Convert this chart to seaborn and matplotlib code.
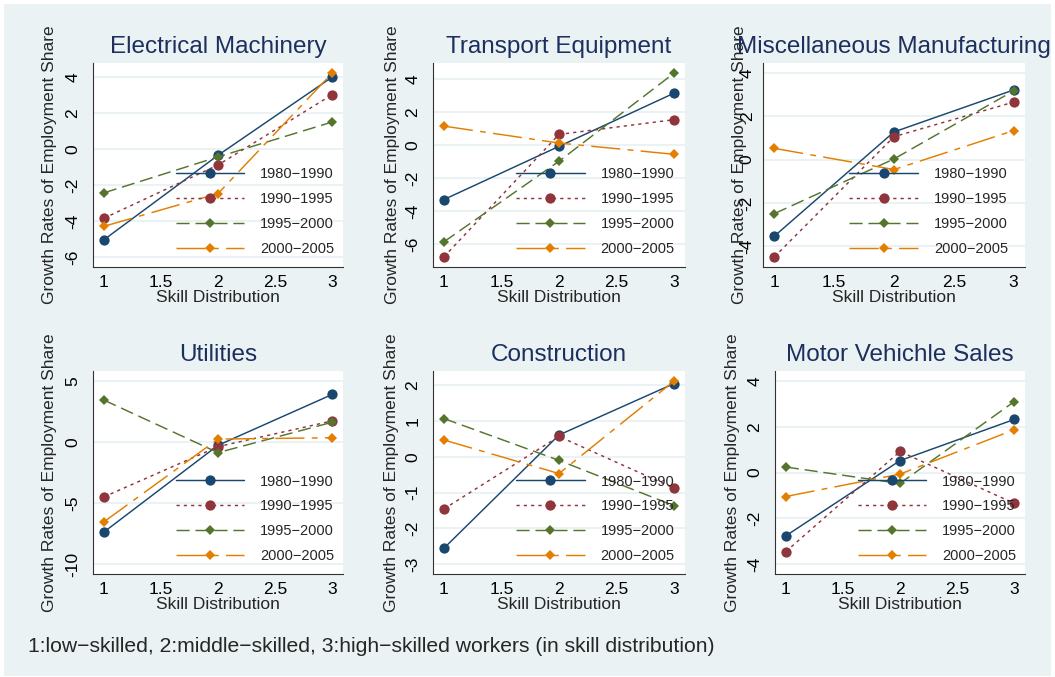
import matplotlib
matplotlib.use("Agg")
import matplotlib.pyplot as plt
import seaborn as sns
import pandas as pd
from matplotlib.patches import Rectangle

# skill groups on the x axis
skill = [1, 2, 3]
periods = ["1980\u22121990", "1990\u22121995", "1995\u22122000", "2000\u22122005"]

# growth rates of employment share, one list per period (values at skill 1, 2, 3)
electrical = [[-5.05, -0.35, 4.00], [-3.85, -0.89, 3.02], [-2.44, -0.44, 1.50], [-4.30, -2.48, 4.22]]
transport = [[-3.29, -0.08, 3.13], [-6.75, 0.64, 1.53], [-5.84, -0.98, 4.34], [1.14, 0.12, -0.56]]
misc_manuf = [[-3.54, 1.28, 3.22], [-4.50, 1.06, 2.66], [-2.50, 0.03, 3.18], [0.52, -0.46, 1.34]]
utilities = [[-7.39, -0.27, 3.90], [-4.50, -0.38, 1.73], [3.44, -0.87, 1.62], [-6.55, 0.24, 0.35]]
construction = [[-2.56, 0.61, 2.05], [-1.46, 0.57, -0.88], [1.07, -0.10, -1.37], [0.47, -0.47, 2.12]]
motor_sales = [[-2.77, 0.52, 2.32], [-3.46, 0.92, -1.35], [0.24, -0.48, 3.10], [-1.05, -0.07, 1.87]]

titles = ["Electrical Machinery", "Transport Equipment", "Miscellaneous Manufacturing",
          "Utilities", "Construction", "Motor Vehichle Sales"]
panels = [electrical, transport, misc_manuf, utilities, construction, motor_sales]
yticks = [[-6, -4, -2, 0, 2, 4], [-6, -4, -2, 0, 2, 4], [-4, -2, 0, 2, 4],
          [-10, -5, 0, 5], [-3, -2, -1, 0, 1, 2], [-4, -2, 0, 2, 4]]
xticks = [1, 1.5, 2, 2.5, 3]
xticklabels = ["1", "1.5", "2", "2.5", "3"]

# stata s2color look
colors = ["#1a476f", "#90353b", "#55752f", "#e37e00"]
markers = ["o", "o", "D", "D"]
msizes = [7.4, 7.4, 5.6, 5.6]
styles = ["-", (0, (2.2, 2.8)), (0, (9, 4)), (0, (20, 5, 4, 5))]
bg = "#eaf2f3"
title_color = "#1c2f5e"

sns.set_style("white")
sns.set_context("paper")
plt.rcParams["font.family"] = ["Liberation Sans", "DejaVu Sans"]

fig = plt.figure(figsize=(10.55, 6.77), dpi=100)
fig.patch.set_facecolor("white")
fig.patches.append(Rectangle((4 / 1055, 1 / 677), 1047 / 1055, 672 / 677,
                             transform=fig.transFigure, facecolor=bg, edgecolor="none", zorder=-10))

W, H = 1055, 677
# axes boxes in pixels: left, top, right, bottom
boxes = [(93, 63, 343, 267), (433, 63, 685, 267), (763, 63, 1025, 267),
         (93, 371, 343, 574), (433, 371, 685, 574), (775, 371, 1025, 574)]
ylab_off = [-36, -33, -16, -36, -34, -35]
tick_pad = [5, 5, 2, 5, 5, 5]

for i, (data, title) in enumerate(zip(panels, titles)):
    l, t, r, b = boxes[i]
    ax = fig.add_axes([l / W, 1 - b / H, (r - l) / W, (b - t) / H])
    ax.set_facecolor("white")

    rows = []
    for period, vals in zip(periods, data):
        for s, v in zip(skill, vals):
            rows.append({"skill": s, "growth": v, "period": period})
    df = pd.DataFrame(rows)

    for k, period in enumerate(periods):
        sub = df[df["period"] == period]
        sns.lineplot(data=sub, x="skill", y="growth", ax=ax, color=colors[k],
                     marker=markers[k], markersize=msizes[k], markeredgewidth=0,
                     linestyle=styles[k], linewidth=1.05, label=period, zorder=3)

    ticks = yticks[i]
    lo = min(ticks[0], df["growth"].min())
    hi = max(ticks[-1], df["growth"].max())
    pad = (hi - lo) * 0.055
    ax.set_ylim(lo - pad, hi + pad)
    ax.set_xlim(0.905, 3.095)
    ax.set_yticks(ticks)
    ax.set_yticklabels([str(v) for v in ticks])
    ax.set_xticks(xticks)
    ax.set_xticklabels(xticklabels)
    ax.tick_params(axis="both", direction="out", length=4, width=0.8, colors="black",
                   labelsize=12.5)
    ax.tick_params(axis="y", labelrotation=90, pad=tick_pad[i])
    ax.tick_params(axis="x", pad=2)
    for lab in ax.get_yticklabels():
        lab.set_verticalalignment("center")
    ax.grid(axis="y", color=bg, linewidth=1.4)
    ax.grid(axis="x", visible=False)
    ax.set_axisbelow(True)
    for side in ["top", "right"]:
        ax.spines[side].set_visible(False)
    for side in ["left", "bottom"]:
        ax.spines[side].set_color("#333333")
        ax.spines[side].set_linewidth(0.8)

    ax.set_title(title, fontsize=17.5, color=title_color, pad=7)
    ax.set_xlabel("Skill Distribution", fontsize=12.5, labelpad=0)
    ax.set_ylabel("Growth Rates of Employment Share", fontsize=12.5)
    ax.yaxis.set_label_coords(ylab_off[i] / (r - l), 0.5)

    ax.legend(loc="upper left", bbox_to_anchor=(0.33, 0.49), frameon=False,
              fontsize=10.5, handlelength=4.7, handletextpad=1.1, labelspacing=0.75,
              borderpad=0, numpoints=1, borderaxespad=0)

fig.text(28 / W, 1 - 647 / H, "1:low\u2212skilled, 2:middle\u2212skilled, 3:high\u2212skilled workers (in skill distribution)",
         fontsize=15.2, va="center", ha="left")

fig.savefig("out.png", dpi=100, facecolor=fig.get_facecolor())
